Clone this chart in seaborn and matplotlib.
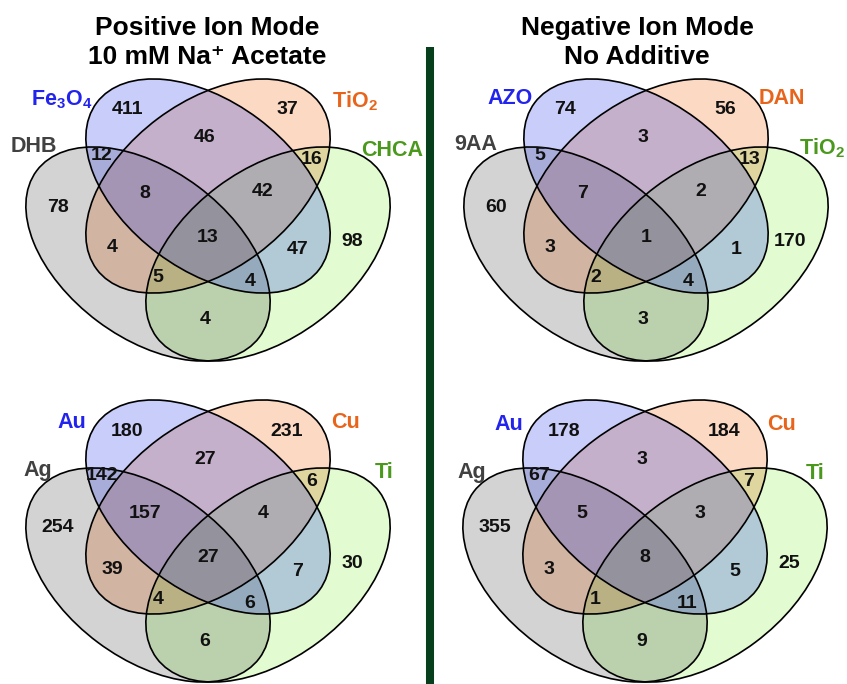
import numpy as np
import matplotlib.pyplot as plt
import seaborn as sns
from matplotlib.patches import Ellipse

# region order (blue, gray, orange, green = set 1..4):
# 1 only, 3 only, 1+3, 2+1, 3+4, 2 only, 2+1+3, 1+3+4, all, 4 only,
# 2+3, 1+4, 2+3+4, 2+1+4, 2+4
pos_counts = [411, 37, 46, 12, 16, 78, 8, 42, 13, 98, 4, 47, 5, 4, 4]
neg_counts = [74, 56, 3, 5, 13, 60, 7, 2, 1, 170, 3, 1, 2, 4, 3]
pos_metal_counts = [180, 231, 27, 142, 6, 254, 157, 4, 27, 30, 39, 7, 4, 6, 6]
neg_metal_counts = [178, 184, 3, 67, 7, 355, 5, 3, 8, 25, 3, 5, 1, 11, 9]

pos_sets = ["Fe$_3$O$_4$", "DHB", "TiO$_2$", "CHCA"]
neg_sets = ["AZO", "9AA", "DAN", "TiO$_2$"]
metal_sets = ["Au", "Ag", "Cu", "Ti"]

title_lines = [["Positive Ion Mode", "10 mM Na\u207a Acetate"],
               ["Negative Ion Mode", "No Additive"]]

sns.set_theme(style="white")
plt.rcParams["font.family"] = ["Liberation Sans", "DejaVu Sans"]
plt.rcParams["font.weight"] = "bold"
plt.rcParams["mathtext.fontset"] = "custom"
plt.rcParams["mathtext.rm"] = "Liberation Sans:bold"
plt.rcParams["mathtext.it"] = "Liberation Sans:bold"
plt.rcParams["mathtext.bf"] = "Liberation Sans:bold"

W, H = 847, 684
fig = plt.figure(figsize=(W / 100, H / 100), dpi=100)
ax = fig.add_axes([0, 0, 1, 1])

# ellipse layout (pixels, relative to panel)
A, B, ANG = 139, 84, 36.8
gray = (148, 254, ANG, (212, 212, 212))
orange = (208, 186, -ANG, (252, 217, 195))
green = (268, 254, -ANG, (226, 251, 208))
blue = (208, 186, ANG, (35, 55, 235))  # drawn last, 25% opacity
shapes = [blue, gray, orange, green]
label_colors = ["#2323ee", "#414141", "#e8641a", "#4a991c"]
offsets = [(0, 0), (438, 0), (0, 321), (437, 321)]
num_xy = [(127, 110), (287, 110), (205, 138), (102, 155), (312, 160), (58, 207),
          (145, 193), (263, 192), (208, 237), (352, 242), (112, 248), (298, 250),
          (158, 278), (250, 282), (205, 320)]
label_xy = [
    [(62, 105), (34, 152), (355, 107), (392, 156)],
    [(510, 104), (476, 150), (782, 104), (822, 154)],
    [(72, 428), (38, 476), (345, 428), (384, 478)],
    [(509, 430), (472, 478), (782, 430), (815, 479)],
]
panels = [(pos_counts, pos_sets), (neg_counts, neg_sets),
          (pos_metal_counts, metal_sets), (neg_metal_counts, metal_sets)]

# fills: gray/orange/green multiplied, blue laid over with transparency
s = 2
xs = (np.arange(W * s) + 0.5) / s
ys = (np.arange(H * s) + 0.5) / s
xx, yy = np.meshgrid(xs, ys)
img = np.ones((H * s, W * s, 3))


def inside(cx, cy, ang):
    t = np.deg2rad(ang)
    dx, dy = xx - cx, yy - cy
    u = dx * np.cos(t) + dy * np.sin(t)
    v = -dx * np.sin(t) + dy * np.cos(t)
    return (u / A) ** 2 + (v / B) ** 2 <= 1


for ox, oy in offsets:
    for cx, cy, ang, col in [gray, orange, green]:
        img[inside(cx + ox, cy + oy, ang)] *= np.array(col) / 255
    cx, cy, ang, col = blue
    m = inside(cx + ox, cy + oy, ang)
    img[m] = 0.75 * img[m] + 0.25 * np.array(col) / 255
ax.imshow(img, extent=(0, W, H, 0), interpolation="antialiased")

for (counts, names), (ox, oy), lxy in zip(panels, offsets, label_xy):
    for cx, cy, ang, col in shapes:
        ax.add_patch(Ellipse((cx + ox, cy + oy), 2 * A, 2 * B, angle=ang,
                             fill=False, ec="black", lw=1.2))
    for val, (x, y) in zip(counts, num_xy):
        ax.text(x + ox, y + oy, str(val), ha="center", va="center",
                fontsize=14, fontweight="bold", color="#111111")
    for name, (x, y), c in zip(names, lxy, label_colors):
        ax.text(x, y, name, ha="center", va="baseline", fontsize=15.5,
                fontweight="bold", color=c)

for (l1, l2), x in zip(title_lines, [207, 637]):
    ax.text(x, 35, l1, ha="center", va="baseline", fontsize=19, fontweight="bold", color="black")
    ax.text(x, 64, l2, ha="center", va="baseline", fontsize=19, fontweight="bold", color="black")

ax.plot([430, 430], [47, H], color="#073f1c", lw=5.8, solid_capstyle="butt")

ax.set_xlim(0, W)
ax.set_ylim(H, 0)
ax.set_aspect("auto")
ax.axis("off")
fig.savefig("out.png", dpi=100)
